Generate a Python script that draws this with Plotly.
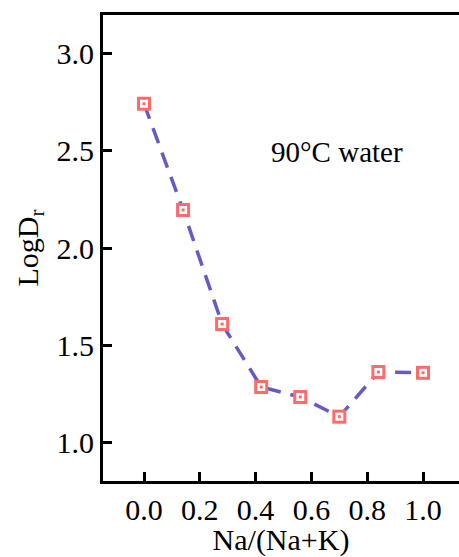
import plotly.graph_objects as go

# Na fraction vs. log release ratio at 90 °C in water
na_fraction = [0.0, 0.14, 0.28, 0.42, 0.56, 0.70, 0.84, 1.0]
log_dr = [2.74, 2.195, 1.61, 1.287, 1.236, 1.135, 1.364, 1.36]

x_ticks = [0.0, 0.2, 0.4, 0.6, 0.8, 1.0]
x_tick_text = ["0.0", "0.2", "0.4", "0.6", "0.8", "1.0"]
y_ticks = [1.0, 1.5, 2.0, 2.5, 3.0]
y_tick_text = ["1.0", "1.5", "2.0", "2.5", "3.0"]

line_color = "#645cc4"
marker_color = "#ff6b6b"
serif = "Liberation Serif, Times New Roman, serif"

fig = go.Figure()

fig.add_trace(go.Scatter(
    x=na_fraction, y=log_dr, mode="lines",
    line=dict(color=line_color, width=3.5, dash="16px,10px"),
    hoverinfo="skip", showlegend=False,
))
# layered square marker: pink square, white inner square, pink centre dot
for size, color in [(14, marker_color), (8, "white"), (3, marker_color)]:
    fig.add_trace(go.Scatter(
        x=na_fraction, y=log_dr, mode="markers",
        marker=dict(symbol="square", size=size, color=color,
                    line=dict(width=0)),
        hoverinfo="skip" if color == "white" else None,
        showlegend=False,
    ))

fig.add_annotation(
    x=0.693, y=2.49, text="90°C water", showarrow=False,
    font=dict(family=serif, size=29, color="black"),
)

fig.update_layout(
    width=459, height=557,
    margin=dict(l=103, r=0, t=15, b=76),
    paper_bgcolor="white", plot_bgcolor="white",
    font=dict(family=serif, color="black"),
    xaxis=dict(
        range=[-0.147, 1.129],
        tickmode="array", tickvals=x_ticks, ticktext=x_tick_text,
        ticks="inside", ticklen=9, tickwidth=3, tickcolor="black",
        showline=True, linewidth=3, linecolor="black", mirror=True,
        showgrid=False, zeroline=False,
        tickfont=dict(family=serif, size=30),
        title=dict(text="Na/(Na+K)", font=dict(family=serif, size=30),
                   standoff=6),
    ),
    yaxis=dict(
        range=[0.805, 3.195],
        tickmode="array", tickvals=y_ticks, ticktext=y_tick_text,
        ticks="inside", ticklen=9, tickwidth=3, tickcolor="black",
        showline=True, linewidth=3, linecolor="black", mirror=False,
        showgrid=False, zeroline=False,
        tickfont=dict(family=serif, size=30),
        title=dict(text="LogD<sub>r</sub>", font=dict(family=serif, size=30),
                   standoff=10),
    ),
)

fig.write_html("out.html")
